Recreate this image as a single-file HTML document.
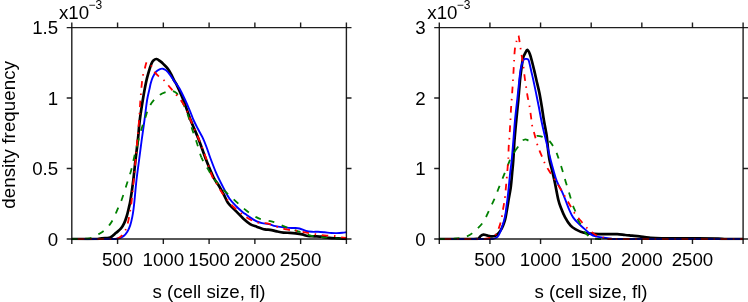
<!DOCTYPE html>
<html><head><meta charset="utf-8"><title>chart</title>
<style>html,body{margin:0;padding:0;background:#fff;}svg{display:block;will-change:transform;transform:translateZ(0);}</style></head>
<body>
<svg width="748" height="302" viewBox="0 0 748 302">
<rect width="748" height="302" fill="#fff"/>
<g font-family="Liberation Sans, sans-serif" font-size="18.7px" fill="#000">
<clipPath id="c1"><rect x="71.3" y="27.6" width="275.8" height="212.6"/></clipPath>
<clipPath id="c2"><rect x="438.8" y="27.6" width="305.0" height="212.6"/></clipPath>
<g clip-path="url(#c1)"><path d="M71.80 239.00 C75.67 239.00 90.30 239.08 95.00 239.00 C99.70 238.92 98.33 238.66 100.00 238.50 C101.67 238.34 103.28 238.22 105.00 238.05 C106.72 237.88 108.45 238.38 110.30 237.50 C112.15 236.62 114.35 234.27 116.10 232.80 C117.85 231.33 119.47 230.27 120.80 228.70 C122.13 227.13 123.10 225.52 124.10 223.40 C125.10 221.28 126.02 218.57 126.80 216.00 C127.58 213.43 128.18 210.67 128.80 208.00 C129.42 205.33 129.75 204.65 130.50 200.00 C131.25 195.35 132.47 186.77 133.30 180.10 C134.13 173.43 134.73 166.68 135.50 160.00 C136.27 153.32 137.18 146.67 137.90 140.00 C138.62 133.33 138.98 126.67 139.80 120.00 C140.62 113.33 141.77 106.25 142.80 100.00 C143.83 93.75 145.00 87.22 146.00 82.50 C147.00 77.78 147.90 74.83 148.80 71.70 C149.70 68.57 150.63 65.58 151.40 63.70 C152.17 61.82 152.55 61.18 153.40 60.40 C154.25 59.62 155.38 58.87 156.50 59.00 C157.62 59.13 158.93 60.35 160.10 61.20 C161.27 62.05 162.27 62.92 163.50 64.10 C164.73 65.28 166.28 66.72 167.50 68.30 C168.72 69.88 169.68 71.55 170.80 73.60 C171.92 75.65 173.25 78.80 174.20 80.60 C175.15 82.40 174.97 81.17 176.50 84.40 C178.03 87.63 181.05 94.07 183.40 100.00 C185.75 105.93 188.03 113.38 190.60 120.00 C193.17 126.62 196.20 133.03 198.80 139.70 C201.40 146.37 203.73 153.70 206.20 160.00 C208.67 166.30 211.48 173.22 213.60 177.50 C215.72 181.78 217.15 182.77 218.90 185.70 C220.65 188.63 222.57 192.20 224.10 195.10 C225.63 198.00 226.55 200.87 228.10 203.10 C229.65 205.33 231.52 206.58 233.40 208.50 C235.28 210.42 237.73 212.90 239.40 214.60 C241.07 216.30 241.62 217.12 243.40 218.70 C245.18 220.28 247.88 222.77 250.10 224.10 C252.32 225.43 254.25 225.82 256.70 226.70 C259.15 227.58 262.57 228.88 264.80 229.40 C267.03 229.92 268.10 229.47 270.10 229.80 C272.10 230.13 274.57 230.93 276.80 231.40 C279.03 231.87 281.30 232.37 283.50 232.60 C285.70 232.83 287.98 232.68 290.00 232.80 C292.02 232.92 293.57 233.03 295.60 233.30 C297.63 233.57 300.17 233.95 302.20 234.40 C304.23 234.85 305.78 235.68 307.80 236.00 C309.82 236.32 311.97 236.18 314.30 236.30 C316.63 236.42 319.30 236.43 321.80 236.70 C324.30 236.97 326.50 237.62 329.30 237.90 C332.10 238.18 335.75 238.23 338.60 238.40 C341.45 238.57 345.10 238.82 346.40 238.90" fill="none" stroke="#000000" stroke-width="2.7" stroke-linejoin="round"/>
<path d="M71.80 239.00 C76.50 239.00 93.63 239.00 100.00 239.00 C106.37 239.00 107.20 239.03 110.00 239.00 C112.80 238.97 114.55 239.28 116.80 238.80 C119.05 238.32 121.72 237.33 123.50 236.10 C125.28 234.87 126.38 233.18 127.50 231.40 C128.62 229.62 129.42 227.73 130.20 225.40 C130.98 223.07 131.65 220.07 132.20 217.40 C132.75 214.73 133.12 212.22 133.50 209.40 C133.88 206.58 134.00 205.40 134.50 200.50 C135.00 195.60 135.73 186.75 136.50 180.00 C137.27 173.25 138.23 166.67 139.10 160.00 C139.97 153.33 140.80 146.67 141.70 140.00 C142.60 133.33 143.60 126.67 144.50 120.00 C145.40 113.33 146.28 105.10 147.10 100.00 C147.92 94.90 148.78 92.23 149.40 89.40 C150.02 86.57 150.23 85.05 150.80 83.00 C151.37 80.95 151.92 78.98 152.80 77.10 C153.68 75.22 154.98 73.00 156.10 71.70 C157.22 70.40 158.38 69.80 159.50 69.30 C160.62 68.80 161.70 68.52 162.80 68.70 C163.90 68.88 164.87 69.33 166.10 70.40 C167.33 71.47 168.85 73.32 170.20 75.10 C171.55 76.88 173.10 79.52 174.20 81.10 C175.30 82.68 175.92 83.37 176.80 84.60 C177.68 85.83 178.18 86.10 179.50 88.50 C180.82 90.90 182.92 95.17 184.70 99.00 C186.48 102.83 188.73 108.00 190.20 111.50 C191.67 115.00 192.20 117.08 193.50 120.00 C194.80 122.92 196.52 126.13 198.00 129.00 C199.48 131.87 201.02 134.28 202.40 137.20 C203.78 140.12 204.92 142.87 206.30 146.50 C207.68 150.13 208.97 154.38 210.70 159.00 C212.43 163.62 214.70 169.63 216.70 174.20 C218.70 178.77 220.58 182.35 222.70 186.40 C224.82 190.45 227.12 195.15 229.40 198.50 C231.68 201.85 234.07 204.13 236.40 206.50 C238.73 208.87 241.78 211.37 243.40 212.70 C245.02 214.03 244.98 213.72 246.10 214.50 C247.22 215.28 248.33 216.25 250.10 217.40 C251.87 218.55 254.70 220.45 256.70 221.40 C258.70 222.35 260.08 222.65 262.10 223.10 C264.12 223.55 266.57 223.60 268.80 224.10 C271.03 224.60 273.05 225.57 275.50 226.10 C277.95 226.63 281.28 227.00 283.50 227.30 C285.72 227.60 287.02 227.78 288.80 227.90 C290.58 228.02 292.42 227.90 294.20 228.00 C295.98 228.10 297.53 228.00 299.50 228.50 C301.47 229.00 303.92 230.45 306.00 231.00 C308.08 231.55 309.98 231.67 312.00 231.80 C314.02 231.93 316.00 231.72 318.10 231.80 C320.20 231.88 322.42 232.10 324.60 232.30 C326.78 232.50 329.17 232.87 331.20 233.00 C333.23 233.13 334.93 233.13 336.80 233.10 C338.67 233.07 340.80 232.93 342.40 232.80 C344.00 232.67 345.73 232.38 346.40 232.30" fill="none" stroke="#0000ff" stroke-width="1.9" stroke-linejoin="round"/>
<path d="M71.80 239.00 C73.17 238.99 77.63 239.00 80.00 238.95 C82.37 238.90 84.10 238.89 86.00 238.70 C87.90 238.51 89.28 238.57 91.40 237.80 C93.52 237.03 96.47 235.38 98.70 234.10 C100.93 232.82 102.90 231.77 104.80 230.10 C106.70 228.43 108.67 226.00 110.10 224.10 C111.53 222.20 112.17 221.15 113.40 218.70 C114.63 216.25 116.13 212.52 117.50 209.40 C118.87 206.28 120.05 204.22 121.60 200.00 C123.15 195.78 125.17 189.20 126.80 184.10 C128.43 179.00 130.13 174.07 131.40 169.40 C132.67 164.73 133.28 160.77 134.40 156.10 C135.52 151.43 136.87 146.08 138.10 141.40" fill="none" stroke="#008000" stroke-width="1.8" stroke-dasharray="6.3 7.6" stroke-dashoffset="0.42" stroke-linejoin="round"/>
<path d="M138.10 141.40 C139.33 136.72 140.58 132.00 141.80 128.00 C143.02 124.00 144.35 120.50 145.40 117.40 C146.45 114.30 146.87 112.07 148.10 109.40 C149.33 106.73 150.80 103.85 152.80 101.40 C154.80 98.95 157.88 96.27 160.10 94.70 C162.32 93.13 164.42 92.63 166.10 92.00 C167.78 91.37 168.97 91.02 170.20 90.90 C171.43 90.78 172.40 90.88 173.50 91.30 C174.60 91.72 175.57 92.03 176.80 93.40 C178.03 94.77 179.70 97.48 180.90 99.50 C182.10 101.52 182.78 102.75 184.00 105.50 C185.22 108.25 186.80 111.92 188.20 116.00 C189.60 120.08 190.97 125.55 192.40 130.00 C193.83 134.45 195.30 138.13 196.80 142.70 C198.30 147.27 199.52 152.95 201.40 157.40" fill="none" stroke="#008000" stroke-width="1.8" stroke-dasharray="6.3 7.6" stroke-dashoffset="3.17" stroke-linejoin="round"/>
<path d="M201.40 157.40 C203.28 161.85 205.88 165.67 208.10 169.40 C210.32 173.13 211.82 176.08 214.70 179.80 C217.58 183.52 221.78 188.03 225.40 191.70 C229.02 195.37 232.92 198.67 236.40 201.80 C239.88 204.93 242.92 207.90 246.30 210.50 C249.68 213.10 254.07 215.92 256.70 217.40 C259.33 218.88 259.65 218.73 262.10 219.40 C264.55 220.07 269.17 220.85 271.40 221.40 C273.63 221.95 273.48 221.92 275.50 222.70 C277.52 223.48 281.28 225.20 283.50 226.10 C285.72 227.00 286.58 227.30 288.80 228.10 C291.02 228.90 294.57 230.15 296.80 230.90 C299.03 231.65 300.00 231.85 302.20 232.60 C304.40 233.35 307.78 234.77 310.00 235.40 C312.22 236.03 313.08 236.03 315.50 236.40 C317.92 236.77 320.80 237.23 324.50 237.60 C328.20 237.97 334.05 238.37 337.70 238.60 C341.35 238.83 344.95 238.93 346.40 239.00" fill="none" stroke="#008000" stroke-width="1.8" stroke-dasharray="6.3 7.6" stroke-dashoffset="2.38" stroke-linejoin="round"/>
<path d="M71.80 239.00 C76.50 239.00 93.30 239.00 100.00 239.00 C106.70 239.00 109.08 239.08 112.00 239.00 C114.92 238.92 115.82 239.10 117.50 238.50 C119.18 237.90 120.77 236.80 122.10 235.40 C123.43 234.00 124.48 232.43 125.50 230.10 C126.52 227.77 127.42 224.63 128.20 221.40 C128.98 218.17 129.62 214.22 130.20 210.70 C130.78 207.18 131.12 205.42 131.70 200.30 C132.28 195.18 133.05 186.72 133.70 180.00 C134.35 173.28 135.00 166.67 135.60 160.00 C136.20 153.33 136.72 146.67 137.30 140.00 C137.88 133.33 138.58 126.67 139.10 120.00 C139.62 113.33 139.92 106.33 140.40 100.00 C140.88 93.67 141.53 86.27 142.00 82.00 C142.47 77.73 142.70 76.78 143.20 74.40 C143.70 72.02 144.47 69.67 145.00 67.70 C145.53 65.73 145.87 63.75 146.40 62.60 C146.93 61.45 147.37 60.23 148.20 60.80" fill="none" stroke="#ff0000" stroke-width="1.8" stroke-dasharray="1.5 5.7 6.6 5.7" stroke-dashoffset="1.17" stroke-linejoin="round"/>
<path d="M148.20 60.80 C149.03 61.37 150.30 64.07 151.40 66.00 C152.50 67.93 153.50 70.62 154.80 72.40 C156.10 74.18 157.65 75.37 159.20 76.70 C160.75 78.03 162.50 78.85 164.10 80.40 C165.70 81.95 167.35 84.28 168.80 86.00 C170.25 87.72 171.47 89.13 172.80 90.70 C174.13 92.27 175.23 93.50 176.80 95.40 C178.37 97.30 180.52 99.55 182.20 102.10 C183.88 104.65 185.57 107.85 186.90 110.70 C188.23 113.55 188.15 114.32 190.20 119.20 C192.25 124.08 196.55 133.47 199.20 140.00 C201.85 146.53 203.95 152.38 206.10 158.40 C208.25 164.42 210.33 171.88 212.10 176.10 C213.87 180.32 215.15 181.10 216.70 183.70 C218.25 186.30 219.62 189.03 221.40 191.70 C223.18 194.37 225.47 197.23 227.40 199.70 C229.33 202.17 230.67 204.18 233.00 206.50 C235.33 208.82 238.78 211.57 241.40 213.60 C244.02 215.63 245.92 217.18 248.70 218.70 C251.48 220.22 254.98 221.92 258.10 222.70 C261.22 223.48 264.28 222.73 267.40 223.40 C270.52 224.07 273.67 225.70 276.80 226.70 C279.93 227.70 283.08 228.73 286.20 229.40 C289.32 230.07 292.83 230.30 295.50 230.70 C298.17 231.10 300.15 231.45 302.20 231.80 C304.25 232.15 305.75 232.43 307.80 232.80 C309.85 233.17 312.17 233.62 314.50 234.00 C316.83 234.38 319.65 234.83 321.80 235.10 C323.95 235.37 325.30 235.45 327.40 235.60 C329.50 235.75 332.07 235.68 334.40 236.00 C336.73 236.32 339.40 237.17 341.40 237.50 C343.40 237.83 345.57 237.92 346.40 238.00" fill="none" stroke="#ff0000" stroke-width="1.8" stroke-dasharray="1.5 5.7 6.6 5.7" stroke-dashoffset="14.14" stroke-linejoin="round"/>
</g>
<g clip-path="url(#c2)"><path d="M439.30 239.00 C444.42 239.00 463.72 239.02 470.00 239.00 C476.28 238.98 475.52 239.03 477.00 238.90 C478.48 238.77 478.30 238.68 478.90 238.20 C479.50 237.72 479.82 236.60 480.60 236.00 C481.38 235.40 482.55 234.70 483.60 234.60 C484.65 234.50 485.70 235.12 486.90 235.40 C488.10 235.68 489.48 236.20 490.80 236.30 C492.12 236.40 493.68 236.35 494.80 236.00 C495.92 235.65 496.50 235.18 497.50 234.20 C498.50 233.22 499.87 231.57 500.80 230.10 C501.73 228.63 502.40 227.08 503.10 225.40 C503.80 223.72 504.47 222.00 505.00 220.00 C505.53 218.00 505.85 215.85 506.30 213.40 C506.75 210.95 507.32 207.60 507.70 205.30 C508.08 203.00 508.08 202.70 508.60 199.60 C509.12 196.50 510.22 191.07 510.80 186.70 C511.38 182.33 511.68 177.85 512.10 173.40 C512.52 168.95 512.90 165.57 513.30 160.00 C513.70 154.43 514.00 146.67 514.50 140.00 C515.00 133.33 515.67 126.67 516.30 120.00 C516.93 113.33 517.68 106.67 518.30 100.00 C518.92 93.33 519.47 85.33 520.00 80.00 C520.53 74.67 520.98 71.67 521.50 68.00 C522.02 64.33 522.48 60.47 523.10 58.00 C523.72 55.53 524.50 54.57 525.20 53.20 C525.90 51.83 526.52 49.63 527.30 49.80 C528.08 49.97 529.12 52.25 529.90 54.20 C530.68 56.15 531.30 58.87 532.00 61.50 C532.70 64.13 533.37 66.92 534.10 70.00 C534.83 73.08 535.50 76.10 536.40 80.00 C537.30 83.90 538.60 88.95 539.50 93.40 C540.40 97.85 541.08 102.32 541.80 106.70 C542.52 111.08 543.13 115.70 543.80 119.70 C544.47 123.70 545.28 127.75 545.80 130.70 C546.32 133.65 546.52 134.18 546.90 137.40 C547.28 140.62 547.67 146.23 548.10 150.00 C548.53 153.77 548.82 156.55 549.50 160.00 C550.18 163.45 551.30 166.92 552.20 170.70 C553.10 174.48 553.88 177.87 554.90 182.70 C555.92 187.53 557.28 195.48 558.30 199.70 C559.32 203.92 559.87 205.05 561.00 208.00 C562.13 210.95 563.53 214.50 565.10 217.40 C566.67 220.30 568.63 223.40 570.40 225.40 C572.17 227.40 573.47 228.17 575.70 229.40 C577.93 230.63 581.33 232.08 583.80 232.80 C586.27 233.52 588.05 233.48 590.50 233.70 C592.95 233.92 595.62 234.03 598.50 234.10 C601.38 234.17 604.68 234.10 607.80 234.10 C610.92 234.10 614.30 233.95 617.20 234.10 C620.10 234.25 622.73 234.75 625.20 235.00 C627.67 235.25 629.62 235.38 632.00 235.60 C634.38 235.82 636.68 235.97 639.50 236.30 C642.32 236.63 645.23 237.27 648.90 237.60 C652.57 237.93 654.15 238.17 661.50 238.30 C668.85 238.43 683.53 238.33 693.00 238.40 C702.47 238.47 713.03 238.60 718.30 238.70 C723.57 238.80 720.47 238.95 724.60 239.00 C728.73 239.05 740.02 239.00 743.10 239.00" fill="none" stroke="#000000" stroke-width="2.7" stroke-linejoin="round"/>
<path d="M439.30 239.00 C444.42 239.00 461.88 239.00 470.00 239.00 C478.12 239.00 484.08 239.03 488.00 239.00 C491.92 238.97 491.92 239.17 493.50 238.80 C495.08 238.43 496.38 237.92 497.50 236.80 C498.62 235.68 499.40 233.88 500.20 232.10 C501.00 230.32 501.63 228.12 502.30 226.10 C502.97 224.08 503.65 222.12 504.20 220.00 C504.75 217.88 505.20 215.85 505.60 213.40 C506.00 210.95 506.30 207.58 506.60 205.30 C506.90 203.02 507.03 202.80 507.40 199.70 C507.77 196.60 508.35 191.08 508.80 186.70 C509.25 182.32 509.62 177.85 510.10 173.40 C510.58 168.95 511.15 165.57 511.70 160.00 C512.25 154.43 512.85 146.67 513.40 140.00 C513.95 133.33 514.37 126.67 515.00 120.00 C515.63 113.33 516.48 106.67 517.20 100.00 C517.92 93.33 518.73 85.08 519.30 80.00 C519.87 74.92 520.15 72.22 520.60 69.50 C521.05 66.78 521.48 65.35 522.00 63.70 C522.52 62.05 523.03 60.40 523.70 59.60 C524.37 58.80 525.23 58.90 526.00 58.90 C526.77 58.90 527.70 58.80 528.30 59.60 C528.90 60.40 529.13 61.88 529.60 63.70 C530.07 65.52 530.48 67.78 531.10 70.50 C531.72 73.22 532.47 76.18 533.30 80.00 C534.13 83.82 535.18 88.95 536.10 93.40 C537.02 97.85 537.95 102.32 538.80 106.70 C539.65 111.08 540.30 115.25 541.20 119.70 C542.10 124.15 543.15 128.90 544.20 133.40 C545.25 137.90 546.43 142.32 547.50 146.70 C548.57 151.08 549.58 155.70 550.60 159.70 C551.62 163.70 552.55 167.08 553.60 170.70 C554.65 174.32 555.47 177.83 556.90 181.40 C558.33 184.97 560.78 189.03 562.20 192.10 C563.62 195.17 564.25 196.92 565.40 199.80 C566.55 202.68 567.82 206.47 569.10 209.40 C570.38 212.33 571.55 215.07 573.10 217.40 C574.65 219.73 576.40 221.40 578.40 223.40 C580.40 225.40 583.08 227.62 585.10 229.40 C587.12 231.18 588.72 232.93 590.50 234.10 C592.28 235.27 593.58 235.80 595.80 236.40 C598.02 237.00 601.13 237.30 603.80 237.70 C606.47 238.10 609.10 238.58 611.80 238.80 C614.50 239.02 598.12 238.97 620.00 239.00 C641.88 239.03 722.58 239.00 743.10 239.00" fill="none" stroke="#0000ff" stroke-width="1.9" stroke-linejoin="round"/>
<path d="M439.30 239.00 C440.75 238.99 445.65 238.98 448.00 238.95 C450.35 238.92 451.38 238.94 453.40 238.80 C455.42 238.66 457.77 238.55 460.10 238.10 C462.43 237.65 465.40 236.88 467.40 236.10 C469.40 235.32 470.43 234.63 472.10 233.40 C473.77 232.17 475.62 230.48 477.40 228.70 C479.18 226.92 481.23 224.92 482.80 222.70 C484.37 220.48 485.47 218.07 486.80 215.40 C488.13 212.73 489.58 209.32 490.80 206.70 C492.02 204.08 492.78 202.80 494.10 199.70 C495.42 196.60 497.03 192.27 498.70 188.10 C500.37 183.93 502.32 179.17 504.10 174.70 C505.88 170.23 508.33 163.95 509.40 161.30 C510.47 158.65 509.60 160.45 510.50 158.80 C511.40 157.15 513.53 153.42 514.80 151.40" fill="none" stroke="#008000" stroke-width="1.8" stroke-dasharray="6.3 7.6" stroke-dashoffset="0.00" stroke-linejoin="round"/>
<path d="M514.80 151.40 C516.07 149.38 516.80 148.50 518.10 146.70 C519.40 144.90 521.37 141.83 522.60 140.60 C523.83 139.37 524.55 139.33 525.50 139.30 C526.45 139.27 527.38 140.18 528.30 140.40 C529.22 140.62 530.13 140.97 531.00 140.60" fill="none" stroke="#008000" stroke-width="1.8" stroke-dasharray="6.3 7.6" stroke-dashoffset="0.41" stroke-linejoin="round"/>
<path d="M531.00 140.60 C531.87 140.23 532.65 138.97 533.50 138.20 C534.35 137.43 534.88 136.32 536.10 136.00 C537.32 135.68 538.78 135.63 540.80 136.30 C542.82 136.97 546.30 138.60 548.20 140.00 C550.10 141.40 550.87 142.68 552.20 144.70 C553.53 146.72 555.20 149.98 556.20 152.10 C557.20 154.22 557.42 155.20 558.20 157.40 C558.98 159.60 560.12 162.87 560.90 165.30 C561.68 167.73 562.12 169.32 562.90 172.00 C563.68 174.68 564.60 178.05 565.60 181.40 C566.60 184.75 567.65 188.00 568.90 192.10 C570.15 196.20 572.07 202.90 573.10 206.00 C574.13 209.10 574.32 208.47 575.10 210.70 C575.88 212.93 576.92 217.17 577.80 219.40 C578.68 221.63 579.30 222.10 580.40 224.10 C581.50 226.10 583.17 229.52 584.40 231.40 C585.63 233.28 586.68 234.28 587.80 235.40 C588.92 236.52 589.32 237.50 591.10 238.10 C592.88 238.70 596.85 238.85 598.50 239.00 C600.15 239.15 600.58 239.00 601.00 239.00" fill="none" stroke="#008000" stroke-width="1.8" stroke-dasharray="6.3 7.6" stroke-dashoffset="6.42" stroke-linejoin="round"/>
<path d="M439.30 239.00 C444.42 239.00 462.53 239.03 470.00 239.00 C477.47 238.97 480.75 239.00 484.10 238.80 C487.45 238.60 488.10 238.58 490.10 237.80 C492.10 237.02 494.53 236.05 496.10 234.10 C497.67 232.15 498.60 228.67 499.50 226.10 C500.40 223.53 500.95 221.27 501.50 218.70 C502.05 216.13 502.35 213.37 502.80 210.70 C503.25 208.03 503.83 205.02 504.20 202.70 C504.57 200.38 504.68 199.68 505.00 196.80 C505.32 193.92 505.80 188.63 506.10 185.40 C506.40 182.17 506.53 180.52 506.80 177.40 C507.07 174.28 507.45 169.77 507.70 166.70 C507.95 163.63 508.13 162.33 508.30 159.00 C508.47 155.67 508.52 150.20 508.70 146.70 C508.88 143.20 509.17 141.45 509.40 138.00 C509.63 134.55 509.92 129.10 510.10 126.00 C510.28 122.90 510.35 122.28 510.50 119.40 C510.65 116.52 510.80 112.03 511.00 108.70 C511.20 105.37 511.47 102.62 511.70 99.40 C511.93 96.18 512.18 92.63 512.40 89.40 C512.62 86.17 512.80 83.23 513.00 80.00 C513.20 76.77 513.42 73.30 513.60 70.00 C513.78 66.70 513.95 62.93 514.10 60.20 C514.25 57.47 514.33 55.70 514.50 53.60 C514.67 51.50 514.75 49.70 515.10 47.60 C515.45 45.50 516.05 43.02 516.60 41.00 C517.15 38.98 517.90 35.33 518.40 35.50 C518.90 35.67 519.23 39.82 519.60 42.00 C519.97 44.18 520.27 46.43 520.60 48.60 C520.93 50.77 521.27 52.93 521.60 55.00 C521.93 57.07 522.27 58.83 522.60 61.00 C522.93 63.17 523.22 65.00 523.60 68.00 C523.98 71.00 524.48 75.88 524.90 79.00 C525.32 82.12 525.67 83.87 526.10 86.70 C526.53 89.53 526.93 92.78 527.50 96.00 C528.07 99.22 528.90 102.43 529.50 106.00 C530.10 109.57 530.67 114.18 531.10 117.40 C531.53 120.62 531.60 122.75 532.10 125.30 C532.60 127.85 533.53 130.58 534.10 132.70 C534.67 134.82 534.98 136.07 535.50 138.00 C536.02 139.93 536.53 142.18 537.20 144.30 C537.87 146.42 538.73 148.73 539.50 150.70 C540.27 152.67 541.02 154.22 541.80 156.10 C542.58 157.98 543.13 159.78 544.20 162.00 C545.27 164.22 546.53 166.62 548.20 169.40 C549.87 172.18 552.30 175.70 554.20 178.70 C556.10 181.70 557.92 184.62 559.60 187.40 C561.28 190.18 562.95 193.08 564.30 195.40 C565.65 197.72 566.68 199.53 567.70 201.30 C568.72 203.07 569.40 204.22 570.40 206.00 C571.40 207.78 572.37 210.00 573.70 212.00 C575.03 214.00 577.05 216.33 578.40 218.00 C579.75 219.67 580.47 220.43 581.80 222.00 C583.13 223.57 584.73 225.72 586.40 227.40 C588.07 229.08 590.23 230.83 591.80 232.10 C593.37 233.37 594.02 234.12 595.80 235.00 C597.58 235.88 599.97 236.77 602.50 237.40 C605.03 238.03 608.08 238.53 611.00 238.80 C613.92 239.07 597.98 238.97 620.00 239.00 C642.02 239.03 722.58 239.00 743.10 239.00" fill="none" stroke="#ff0000" stroke-width="1.8" stroke-dasharray="1.5 5.7 6.6 5.7" stroke-dashoffset="1.75" stroke-linejoin="round"/>
</g>
<path d="M71.8 27.6 H346.4 V239.0 H71.8 Z" fill="none" stroke="#000" stroke-width="1.4" stroke-opacity="0.88"/>
<path d="M71.80 239.0 v5.1 M71.80 27.6 v-5.1 M117.57 239.0 v5.1 M117.57 27.6 v-5.1 M163.33 239.0 v5.1 M163.33 27.6 v-5.1 M209.10 239.0 v5.1 M209.10 27.6 v-5.1 M254.87 239.0 v5.1 M254.87 27.6 v-5.1 M300.63 239.0 v5.1 M300.63 27.6 v-5.1 M346.40 239.0 v5.1 M346.40 27.6 v-5.1 M71.8 239.00 h-5.1 M346.4 239.00 h5.1 M71.8 168.53 h-5.1 M346.4 168.53 h5.1 M71.8 98.07 h-5.1 M346.4 98.07 h5.1 M71.8 27.60 h-5.1 M346.4 27.60 h5.1 " fill="none" stroke="#000" stroke-width="1.4" stroke-opacity="0.88"/>
<text x="117.57" y="266.3" text-anchor="middle">500</text>
<text x="163.33" y="266.3" text-anchor="middle">1000</text>
<text x="209.10" y="266.3" text-anchor="middle">1500</text>
<text x="254.87" y="266.3" text-anchor="middle">2000</text>
<text x="300.63" y="266.3" text-anchor="middle">2500</text>
<text x="58.2" y="245.80" text-anchor="end">0</text>
<text x="58.2" y="175.33" text-anchor="end">0.5</text>
<text x="58.2" y="104.87" text-anchor="end">1</text>
<text x="58.2" y="34.40" text-anchor="end">1.5</text>
<path d="M439.3 27.6 H743.1 V239.0 H439.3 Z" fill="none" stroke="#000" stroke-width="1.4" stroke-opacity="0.88"/>
<path d="M439.30 239.0 v5.1 M439.30 27.6 v-5.1 M489.93 239.0 v5.1 M489.93 27.6 v-5.1 M540.57 239.0 v5.1 M540.57 27.6 v-5.1 M591.20 239.0 v5.1 M591.20 27.6 v-5.1 M641.83 239.0 v5.1 M641.83 27.6 v-5.1 M692.47 239.0 v5.1 M692.47 27.6 v-5.1 M743.10 239.0 v5.1 M743.10 27.6 v-5.1 M439.3 239.00 h-5.1 M743.1 239.00 h5.1 M439.3 168.53 h-5.1 M743.1 168.53 h5.1 M439.3 98.07 h-5.1 M743.1 98.07 h5.1 M439.3 27.60 h-5.1 M743.1 27.60 h5.1 " fill="none" stroke="#000" stroke-width="1.4" stroke-opacity="0.88"/>
<text x="489.93" y="266.3" text-anchor="middle">500</text>
<text x="540.57" y="266.3" text-anchor="middle">1000</text>
<text x="591.20" y="266.3" text-anchor="middle">1500</text>
<text x="641.83" y="266.3" text-anchor="middle">2000</text>
<text x="692.47" y="266.3" text-anchor="middle">2500</text>
<text x="425.7" y="245.80" text-anchor="end">0</text>
<text x="425.7" y="175.33" text-anchor="end">1</text>
<text x="425.7" y="104.87" text-anchor="end">2</text>
<text x="425.7" y="34.40" text-anchor="end">3</text>
<text x="59.0" y="18.8">x10<tspan dy="-10" dx="-0.6" font-size="12px">−3</tspan></text>
<text x="427.3" y="18.8">x10<tspan dy="-10" dx="-0.6" font-size="12px">−3</tspan></text>
<text x="209" y="297.5" text-anchor="middle">s (cell size, fl)</text>
<text x="591" y="297.5" text-anchor="middle">s (cell size, fl)</text>
<text transform="translate(14.6 134.8) rotate(-90)" text-anchor="middle" letter-spacing="0.08">density frequency</text>
</g>
</svg>
</body></html>
